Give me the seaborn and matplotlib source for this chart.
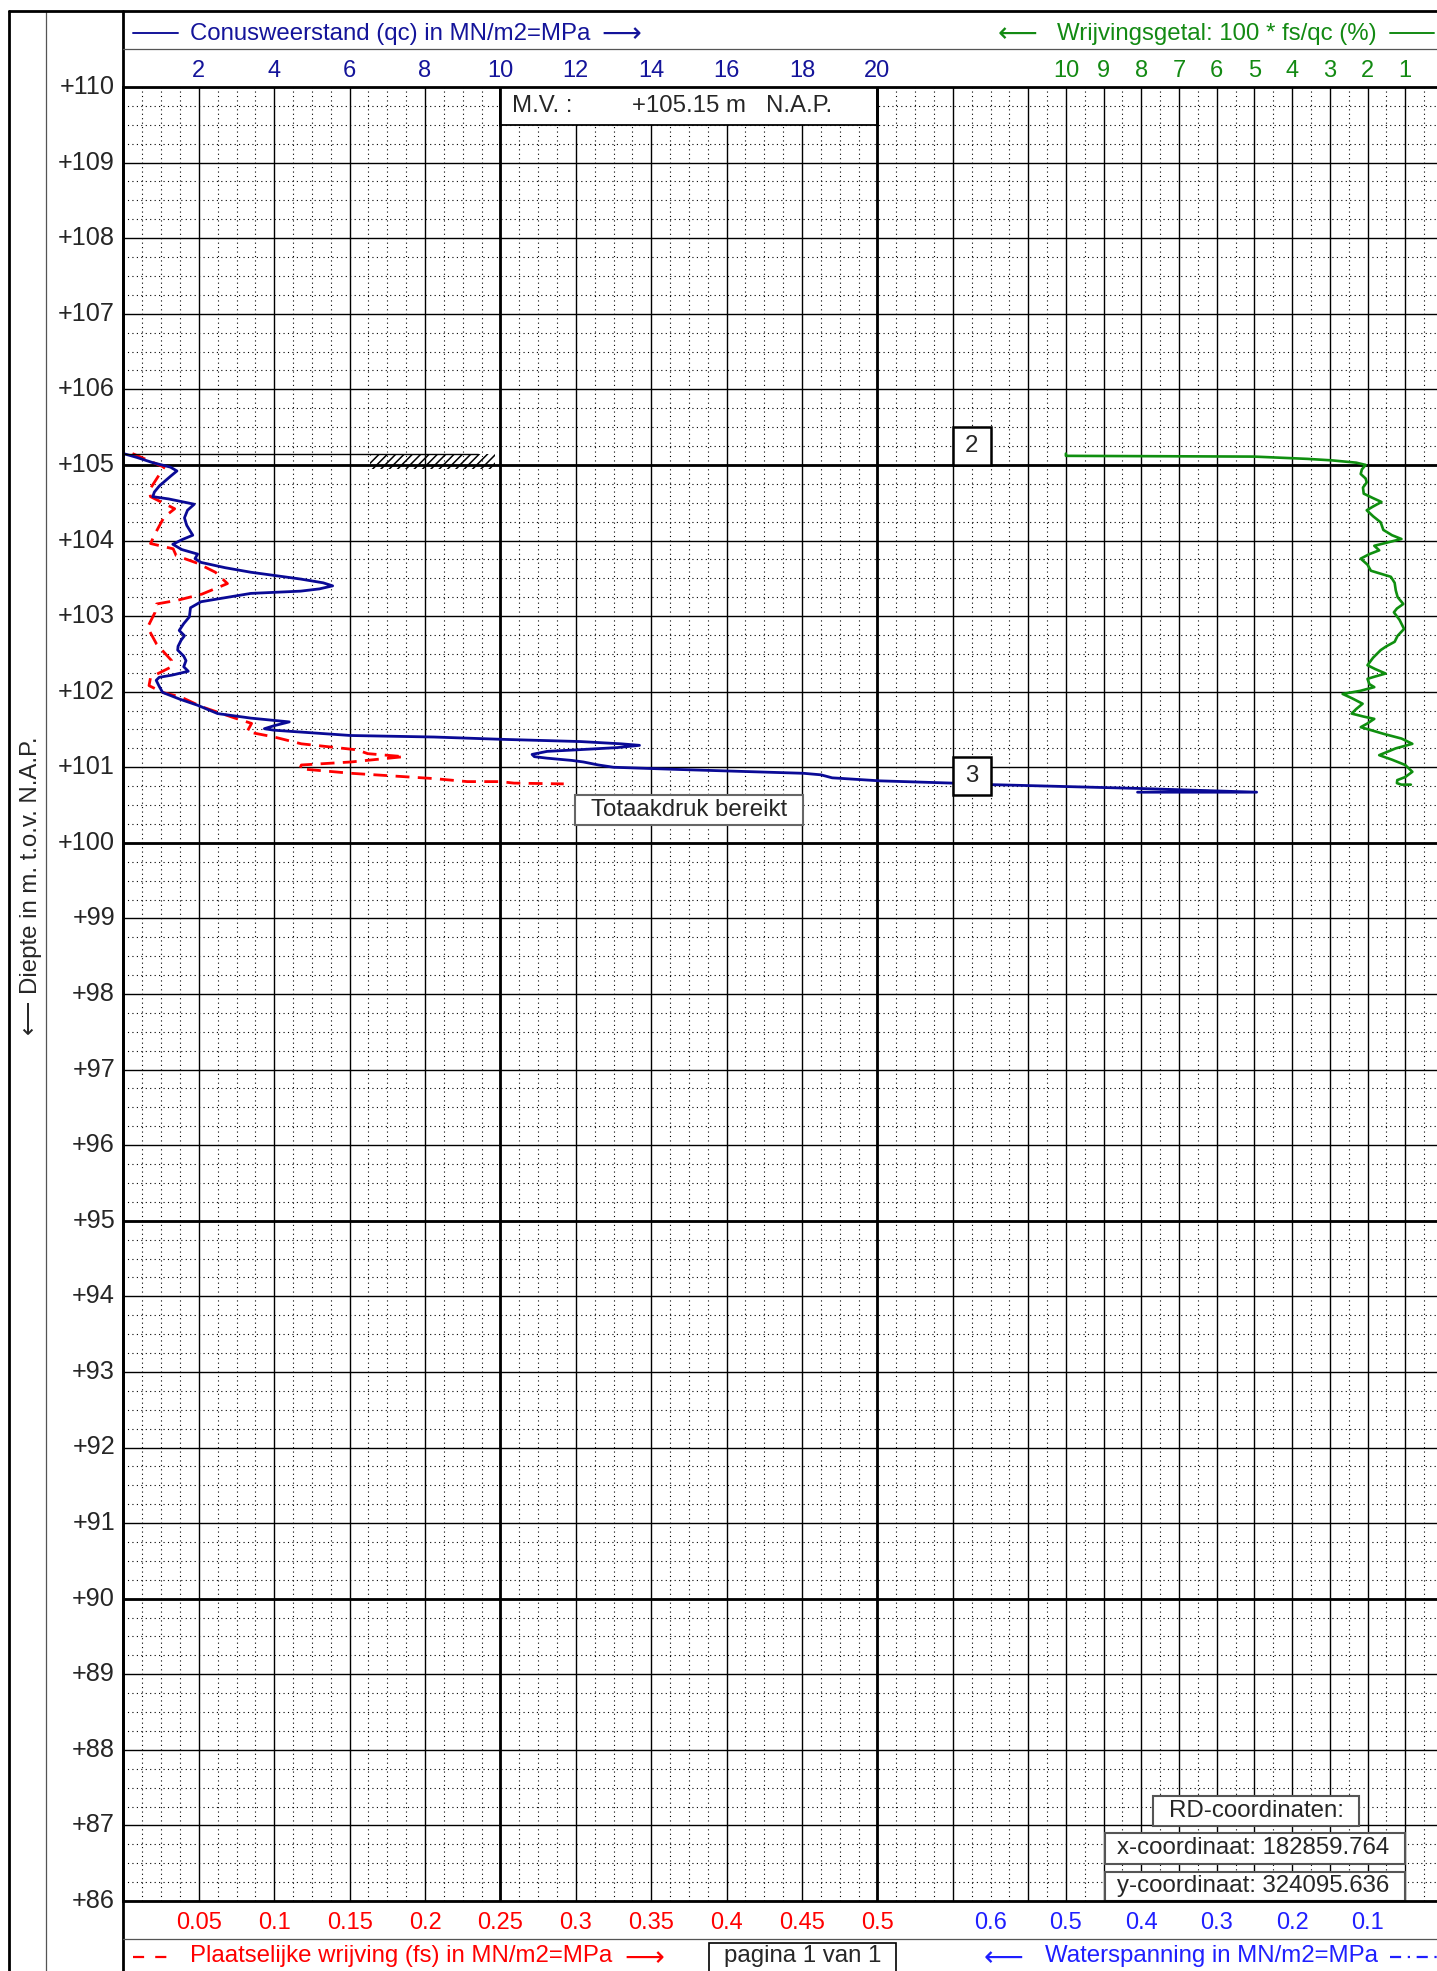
import numpy as np
import pandas as pd
import matplotlib
matplotlib.use("Agg")
import matplotlib.pyplot as plt
import matplotlib.transforms as mtransforms
from matplotlib.lines import Line2D
from matplotlib.patches import Rectangle
import seaborn as sns

# ---------------- data ----------------
# Cone resistance qc (MPa) versus level (m N.A.P.)
qc_level = [105.15, 105.10, 105.03, 104.97, 104.92, 104.85, 104.72, 104.64, 104.58, 104.55,
            104.48, 104.40, 104.30, 104.20, 104.07, 104.01, 103.95, 103.88, 103.82, 103.76,
            103.71, 103.64, 103.58, 103.49, 103.44, 103.40, 103.36, 103.33, 103.30, 103.19,
            103.11, 102.99, 102.90, 102.81, 102.74, 102.68, 102.60, 102.55, 102.47, 102.41,
            102.33, 102.27, 102.22, 102.19, 102.15, 102.07, 101.99, 101.90, 101.82, 101.71,
            101.65, 101.60, 101.55, 101.51, 101.49, 101.42, 101.40, 101.37, 101.34, 101.31,
            101.29, 101.26, 101.23, 101.21, 101.17, 101.14, 101.12, 101.09, 101.07, 101.05,
            101.03, 101.00, 100.97, 100.92, 100.90, 100.86, 100.82, 100.79, 100.77, 100.72,
            100.67, 100.67]
qc_value = [0.00, 0.35, 0.78, 1.25, 1.42, 1.25, 0.95, 0.82, 0.78, 1.20,
            1.88, 1.70, 1.62, 1.68, 1.84, 1.55, 1.31, 1.55, 1.97, 1.90,
            2.06, 2.70, 3.38, 4.70, 5.30, 5.55, 5.20, 4.70, 3.38, 2.06,
            1.78, 1.75, 1.60, 1.48, 1.62, 1.53, 1.45, 1.44, 1.60, 1.66,
            1.60, 1.72, 1.30, 0.95, 0.87, 0.95, 1.04, 1.50, 1.97, 2.50,
            3.38, 4.40, 4.00, 3.74, 4.00, 6.03, 8.24, 10.00, 12.12, 13.20,
            13.69, 13.10, 12.00, 11.24, 10.84, 10.90, 11.24, 11.90, 12.20, 12.40,
            12.60, 13.00, 14.77, 18.04, 18.50, 18.80, 20.07, 22.00, 23.03, 26.90,
            30.06, 26.90]

# Local friction fs (MPa) versus level
fs_level = [105.15, 104.97, 104.66, 104.58, 104.42, 104.31, 104.09, 103.96, 103.89, 103.80,
            103.70, 103.58, 103.43, 103.29, 103.21, 103.16, 103.05, 102.85, 102.63, 102.41,
            102.33, 102.19, 102.08, 101.99, 101.93, 101.80, 101.65, 101.58, 101.47, 101.40,
            101.31, 101.23, 101.18, 101.14, 101.07, 101.03, 100.98, 100.92, 100.85, 100.81,
            100.81, 100.79, 100.78]
fs_value = [0.006, 0.027, 0.017, 0.018, 0.034, 0.027, 0.021, 0.018, 0.033, 0.035,
            0.049, 0.061, 0.069, 0.052, 0.036, 0.022, 0.021, 0.016, 0.022, 0.032,
            0.032, 0.018, 0.017, 0.026, 0.038, 0.052, 0.074, 0.085, 0.082, 0.100,
            0.118, 0.155, 0.162, 0.186, 0.151, 0.118, 0.117, 0.151, 0.206, 0.228,
            0.250, 0.259, 0.292]

# Friction ratio 100*fs/qc (%) versus level
fr_level = [105.15, 105.12, 105.11, 105.08, 105.06, 105.03, 105.00, 104.94, 104.88, 104.82,
            104.77, 104.70, 104.62, 104.56, 104.51, 104.45, 104.40, 104.32, 104.24, 104.14,
            104.07, 104.02, 103.97, 103.93, 103.87, 103.82, 103.76, 103.68, 103.60, 103.52,
            103.44, 103.34, 103.25, 103.16, 103.10, 103.05, 102.95, 102.83, 102.74, 102.66,
            102.60, 102.55, 102.45, 102.35, 102.30, 102.24, 102.20, 102.17, 102.10, 102.06,
            102.01, 101.97, 101.91, 101.84, 101.77, 101.71, 101.67, 101.64, 101.58, 101.53,
            101.49, 101.44, 101.38, 101.31, 101.25, 101.16, 101.10, 101.03, 100.94, 100.87,
            100.83, 100.79, 100.77, 100.77]
fr_value = [10.0, 10.0, 5.0, 3.6, 2.94, 2.3, 2.05, 2.15, 2.18, 2.05,
            2.02, 2.12, 2.10, 1.85, 1.63, 1.85, 2.02, 1.85, 1.65, 1.58,
            1.35, 1.10, 1.50, 1.82, 1.69, 1.95, 2.18, 2.00, 1.91, 1.38,
            1.28, 1.25, 1.20, 1.05, 1.22, 1.30, 1.15, 1.03, 1.20, 1.28,
            1.50, 1.65, 1.85, 2.00, 1.80, 1.52, 1.80, 2.00, 1.95, 1.82,
            2.20, 2.66, 2.40, 2.13, 2.30, 2.42, 2.10, 1.82, 2.00, 2.18,
            1.90, 1.56, 1.10, 0.81, 1.25, 1.69, 1.35, 1.00, 0.81, 1.00,
            1.21, 1.22, 1.10, 0.85]

# tick labels
level_ticks = list(range(86, 111))
qc_ticks = [2, 4, 6, 8, 10, 12, 14, 16, 18, 20]
fr_ticks = [10, 9, 8, 7, 6, 5, 4, 3, 2, 1]
fs_ticks = [0.05, 0.1, 0.15, 0.2, 0.25, 0.3, 0.35, 0.4, 0.45, 0.5]
u_ticks = [0.6, 0.5, 0.4, 0.3, 0.2, 0.1]

MV_LEVEL = 105.15
END_LEVEL = 100.67
RD_X = "182859.764"
RD_Y = "324095.636"

# axis mappings onto the common (qc) x-scale
def fs_to_x(v):
    return np.asarray(v) * 40.0

def fr_to_x(v):
    return 35.0 - np.asarray(v)

def u_to_x(v):
    return 35.0 - 20.0 * np.asarray(v)

# ---------------- style ----------------
sns.set_style("white")
plt.rcParams["font.family"] = ["Liberation Sans", "DejaVu Sans"]
plt.rcParams["hatch.color"] = "black"
plt.rcParams["hatch.linewidth"] = 1.1

NAVY = "#14149a"
BLUE_LINE = "#0a0a96"
BLUE_W = "#1f1fff"
GREEN = "#138a13"
GREEN_LINE = "#0f8f0f"
RED = "#ff0000"
FS = 17.3      # titles / box texts
FS_T = 17.0    # top / bottom tick labels
FS_L = 18.2    # level labels

W, H = 1437, 1971
fig = plt.figure(figsize=(W / 100, H / 100), dpi=100)


def fx(px):
    return px / W


def fy(py):
    return 1 - py / H


PX_L, PX_T, PX_B = 123.4, 87.0, 1901.0
UNIT = 37.7
XMAX = (W - PX_L) / UNIT

ax = fig.add_axes([fx(PX_L), fy(PX_B), (W - PX_L) / W, (PX_B - PX_T) / H])
ax.set_xlim(0, XMAX)
ax.set_ylim(86, 110)

major_x = sorted(set(range(0, 25, 2)) | set(range(25, 35)))
minor_x = np.arange(0.5, XMAX, 0.5)
ax.set_xticks(major_x)
ax.set_xticks(minor_x, minor=True)
ax.set_yticks(level_ticks)
ax.set_yticks(np.arange(86, 110, 0.25), minor=True)
ax.tick_params(which="both", length=0, labelbottom=False, labelleft=False)
ax.set_axisbelow(True)
ax.grid(which="minor", color="black", lw=0.8, ls=(0, (1, 3)))
ax.grid(which="major", color="black", lw=1.0, ls="-")
for v in [10, 20]:
    ax.axvline(v, color="black", lw=2.0, zorder=1.5)
for v in [90, 95, 100, 105]:
    ax.axhline(v, color="black", lw=2.0, zorder=1.5)
for s in ["top", "bottom", "left"]:
    ax.spines[s].set_linewidth(2.0)
    ax.spines[s].set_color("black")
    ax.spines[s].set_zorder(10)
ax.spines["right"].set_visible(False)

# ---------------- curves ----------------
df_qc = pd.DataFrame({"level": qc_level, "x": qc_value})
df_fs = pd.DataFrame({"level": fs_level, "x": fs_to_x(fs_value)})
df_fr = pd.DataFrame({"level": fr_level, "x": fr_to_x(fr_value)})

sns.lineplot(data=df_fs, x="x", y="level", sort=False, estimator=None,
             color=RED, lw=2.0, ax=ax)
ax.lines[-1].set_linestyle((0, (5, 3)))
ax.lines[-1].set_solid_joinstyle("round")
sns.lineplot(data=df_qc, x="x", y="level", sort=False, estimator=None,
             color=BLUE_LINE, lw=2.0, ax=ax)
ax.lines[-1].set_solid_joinstyle("round")
sns.lineplot(data=df_fr, x="x", y="level", sort=False, estimator=None,
             color=GREEN_LINE, lw=1.9, ax=ax)
ax.lines[-1].set_solid_joinstyle("round")
ax.set_xlabel("")
ax.set_ylabel("")
ax.set_xlim(0, XMAX)
ax.set_ylim(86, 110)

# ground level line and hatch
ax.plot([0, 9.4], [MV_LEVEL, MV_LEVEL], color="black", lw=1.0, zorder=3)
ax.fill_between([6.55, 9.85], 104.95, MV_LEVEL - 0.01, facecolor="none",
                edgecolor="black", hatch="////", lw=0, zorder=3)

# ---------------- boxes inside the plot ----------------
def box(x0, x1, y0, y1, ec="black", lw=1.5, z=6):
    ax.add_patch(Rectangle((x0, y0), x1 - x0, y1 - y0, facecolor="white",
                           edgecolor=ec, lw=lw, zorder=z))

# M.V. box
box(10, 20, 109.5, 110, lw=1.3)
ax.text(10.3, 109.75, "M.V. :", fontsize=FS, va="center", ha="left", zorder=7)
ax.text(13.5, 109.75, f"+{MV_LEVEL:.2f} m", fontsize=FS, va="center", ha="left", zorder=7)
ax.text(17.05, 109.75, "N.A.P.", fontsize=FS, va="center", ha="left", zorder=7)
for v in [10, 20]:
    ax.plot([v, v], [109.5, 110], color="black", lw=2.0, zorder=7)

# layer boxes 2 and 3
box(22, 23, 105.0, 105.5, lw=1.8)
ax.text(22.5, 105.25, "2", fontsize=FS, ha="center", va="center", zorder=7)
box(22, 23, END_LEVEL - 0.04, END_LEVEL + 0.46, lw=1.8)
ax.text(22.5, END_LEVEL + 0.21, "3", fontsize=FS, ha="center", va="center", zorder=7)

# Totaakdruk bereikt
box(11.98, 18.03, 100.24, 100.63, ec="#666666", lw=1.5)
ax.text(15.0, 100.435, "Totaakdruk bereikt", fontsize=FS, ha="center", va="center", zorder=7)

# RD coordinates
box(27.32, 32.77, 86.99, 87.39, ec="#555555", lw=1.5)
ax.text(30.05, 87.19, "RD-coordinaten:", fontsize=FS, ha="center", va="center", zorder=7)
box(26.05, 34.0, 86.49, 86.90, ec="#555555", lw=1.5)
ax.text(26.35, 86.695, f"x-coordinaat: {RD_X}", fontsize=FS, ha="left", va="center", zorder=7)
box(26.05, 34.0, 86.0, 86.39, ec="#555555", lw=1.5)
ax.text(26.35, 86.195, f"y-coordinaat: {RD_Y}", fontsize=FS, ha="left", va="center", zorder=7)

# ---------------- tick labels ----------------
tr_left = mtransforms.blended_transform_factory(fig.transFigure, ax.transData)
for v in level_ticks:
    fig.text(fx(115), v, f"+{v}", transform=tr_left, fontsize=FS_L,
             ha="right", va="center")

tr_top = mtransforms.blended_transform_factory(ax.transData, fig.transFigure)
for v in qc_ticks:
    ax.text(v, fy(71), f"{v}", transform=tr_top, fontsize=FS_T, color=NAVY,
            ha="center", va="center", clip_on=False)
for v in fr_ticks:
    ax.text(fr_to_x(v), fy(71), f"{v}", transform=tr_top, fontsize=FS_T, color=GREEN,
            ha="center", va="center", clip_on=False)
for v in fs_ticks:
    ax.text(fs_to_x(v), fy(1923), f"{v:g}", transform=tr_top, fontsize=FS_T, color=RED,
            ha="center", va="center", clip_on=False)
for v in u_ticks:
    ax.text(u_to_x(v), fy(1923), f"{v:g}", transform=tr_top, fontsize=FS_T, color=BLUE_W,
            ha="center", va="center", clip_on=False)

# ---------------- frame lines ----------------
def fline(x0, y0, x1, y1, color="black", lw=1.8, ls="-"):
    fig.add_artist(Line2D([fx(x0), fx(x1)], [fy(y0), fy(y1)], color=color, lw=lw,
                          ls=ls, transform=fig.transFigure))

fline(9, 11, 9, H, lw=2.0)
fline(46, 11, 46, H, color="#555555", lw=0.9)
fline(9, 11, W, 11, lw=2.0)
fline(PX_L, 11, PX_L, H, lw=2.0)
fline(PX_L, 49, W, 49, color="#555555", lw=0.9)
fline(PX_L, 1939, W, 1939, color="#555555", lw=0.9)

# ---------------- header / footer titles ----------------
ARROW_FONT = ["DejaVu Sans"]
fline(133, 33, 178, 33, color=NAVY, lw=1.4)
fig.text(fx(190), fy(34), "Conusweerstand (qc) in MN/m2=MPa", fontsize=FS,
         color=NAVY, ha="left", va="center")
fig.text(fx(601), fy(34), "\u27f6", fontsize=20, color=NAVY, ha="left",
         va="center", family=ARROW_FONT)

fig.text(fx(998), fy(34), "\u27f5", fontsize=20, color=GREEN, ha="left",
         va="center", family=ARROW_FONT)
fig.text(fx(1057), fy(34), "Wrijvingsgetal: 100 * fs/qc (%)", fontsize=FS,
         color=GREEN, ha="left", va="center")
fline(1390, 33, 1434, 33, color=GREEN, lw=1.4)

BASE_Y = 1962
fline(133, 1957, 170, 1957, color=RED, lw=1.6, ls=(0, (5, 5)))
fig.text(fx(190), fy(BASE_Y), "Plaatselijke wrijving (fs) in MN/m2=MPa", fontsize=FS,
         color=RED, ha="left", va="baseline")
fig.text(fx(624), fy(1958), "\u27f6", fontsize=20, color=RED, ha="left",
         va="center", family=ARROW_FONT)

fig.add_artist(Rectangle((fx(709), fy(1980)), fx(896) - fx(709), fy(1943) - fy(1980),
                         facecolor="white", edgecolor="black", lw=1.2,
                         transform=fig.transFigure))
fig.text(fx(803), fy(BASE_Y), "pagina 1 van 1", fontsize=FS, ha="center", va="baseline")

fig.text(fx(984), fy(1958), "\u27f5", fontsize=20, color=BLUE_W, ha="left",
         va="center", family=ARROW_FONT)
fig.text(fx(1045), fy(BASE_Y), "Waterspanning in MN/m2=MPa", fontsize=FS,
         color=BLUE_W, ha="left", va="baseline")
fline(1390, 1957, W, 1957, color=BLUE_W, lw=1.6, ls=(0, (5, 3, 1, 3)))

fig.text(fx(31), fy(886), "\u27f5 Diepte in m. t.o.v. N.A.P.", fontsize=FS,
         rotation=90, ha="center", va="center")

fig.savefig("out.png", dpi=100, facecolor="white")
